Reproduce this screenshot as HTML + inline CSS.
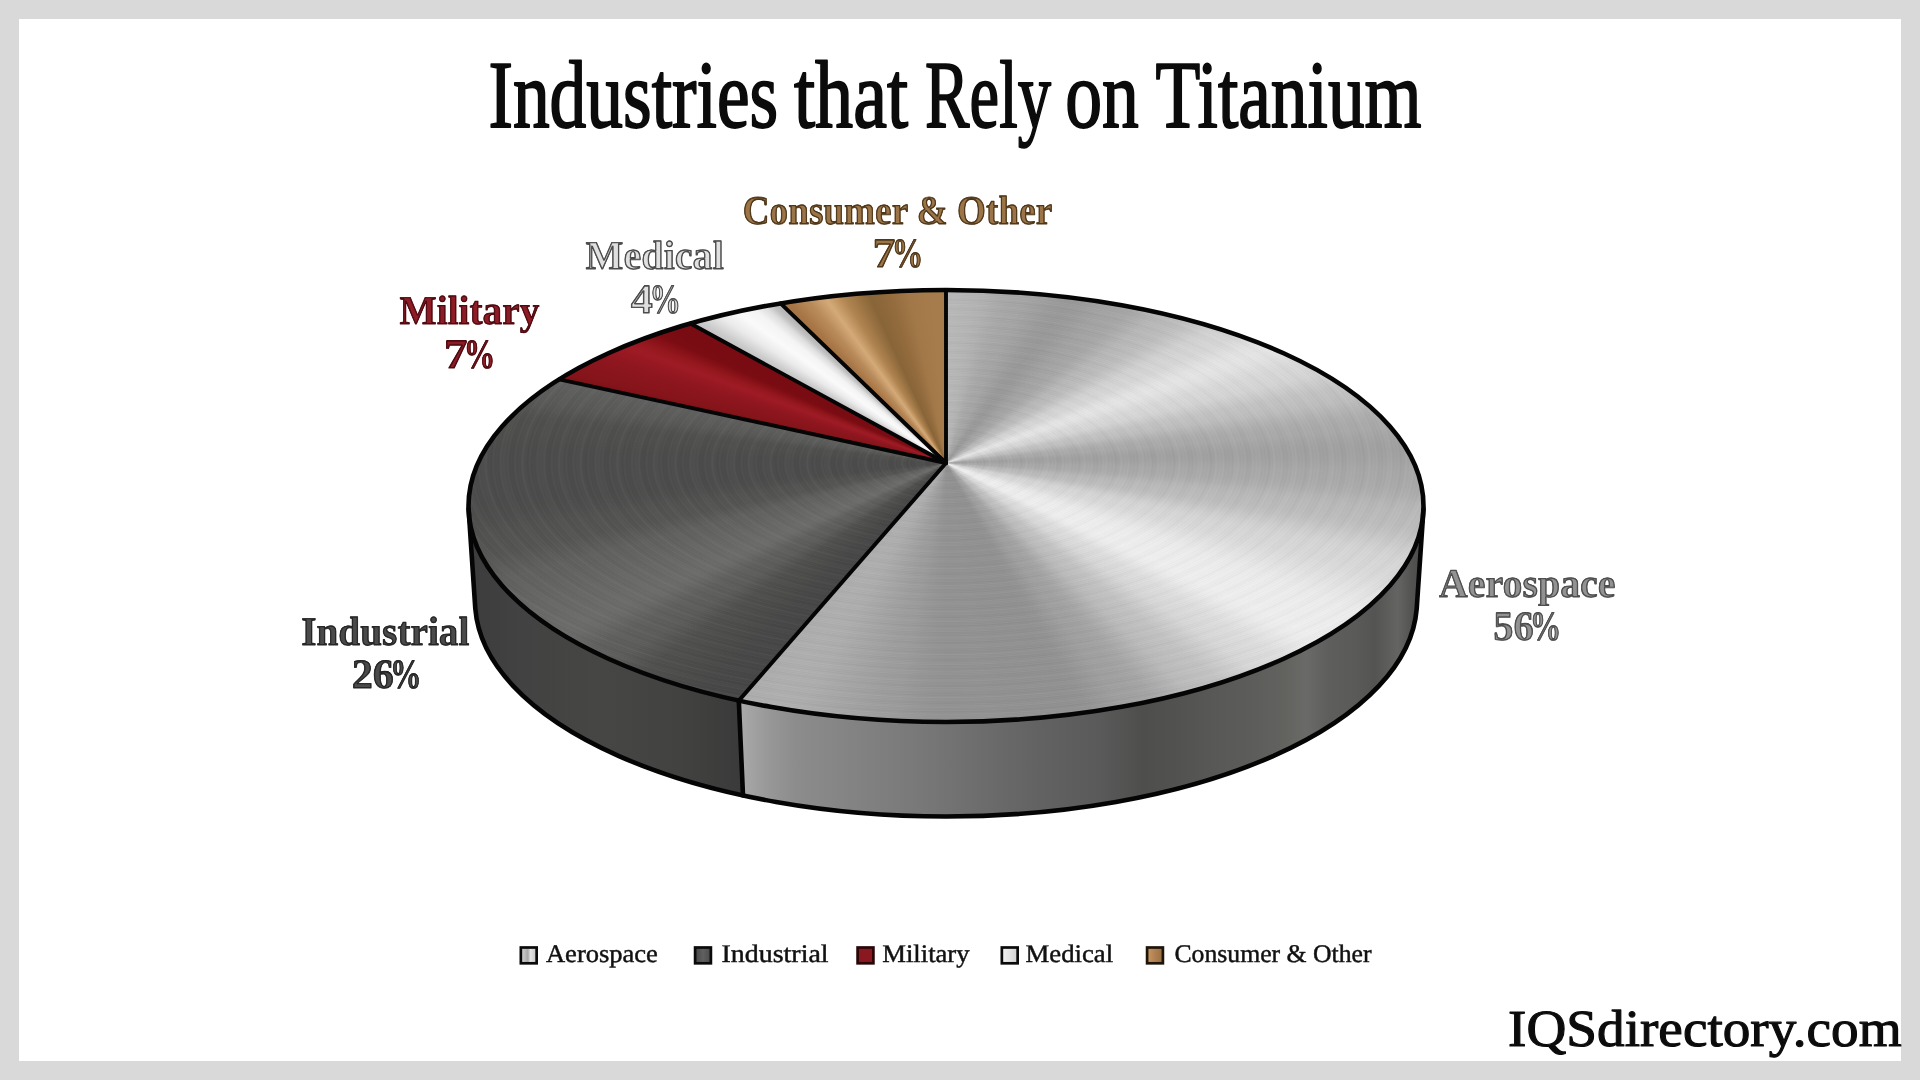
<!DOCTYPE html>
<html><head><meta charset="utf-8"><title>Industries that Rely on Titanium</title>
<style>
html,body{margin:0;padding:0;width:1920px;height:1080px;overflow:hidden;background:#d9d9d9;font-family:"Liberation Serif",serif}
#frame{position:absolute;left:19px;top:19px;width:1882px;height:1042px;background:#fff}
.clip{position:absolute;left:0;top:0;width:1920px;height:1080px;overflow:hidden}
.con{position:absolute;transform-origin:50% 50%}
svg{position:absolute;left:0;top:0;will-change:transform}
</style></head><body>
<div id="frame"></div>
<div class="clip" style="clip-path:path('M468.6 509.1 A477.5 216.0 0 0 0 738.8 700.6 L743.0 795.5 A471.0 215.5 0 0 1 475.3 608.7 Z');background:linear-gradient(90deg, #3c3c3c 468.0px, #424242 520.0px, #464644 600.0px, #424240 680.0px, #3a3a3a 743.0px)"></div>
<div class="clip" style="clip-path:path('M738.8 700.6 A477.5 216.0 0 0 0 1423.5 509.1 L1416.7 608.7 A471.0 215.5 0 0 1 743.0 795.5 Z');background:linear-gradient(90deg, #a8a8a8 743.0px, #a4a4a4 749.0px, #989898 768.0px, #8c8c8c 796.0px, #868686 834.0px, #808080 871.0px, #777777 927.0px, #6c6c6c 984.0px, #626262 1040.0px, #5a5a5a 1099.0px, #4e4e4c 1143.0px, #525250 1178.0px, #585856 1214.0px, #5c5c5a 1249.0px, #62625f 1285.0px, #6a6a68 1306.0px, #5e5e5c 1329.0px, #5a5a58 1355.0px, #545452 1375.0px, #646462 1398.0px, #525250 1412.0px, #4a4a4a 1424.0px)"></div>
<div class="clip" style="clip-path:path('M946.0 463.0 L946.0 290.0 A477.5 216.0 0 1 1 738.8 700.6 Z')"><div class="con" style="left:296.0px;top:-187.0px;width:1300px;height:1300px;transform:scaleY(0.4524);background:repeating-radial-gradient(circle at 50% 50%, rgba(255,255,255,.024) 0px, rgba(0,0,0,.022) 2.3px, rgba(255,255,255,0) 4.1px, rgba(0,0,0,.016) 5.9px, rgba(255,255,255,.024) 7.3px), repeating-radial-gradient(circle at 50% 50%, rgba(0,0,0,.018) 0px, rgba(255,255,255,.02) 5px, rgba(0,0,0,0) 11px, rgba(0,0,0,.018) 19px), conic-gradient(from 0deg at 50% 50%, #bababa 0.0deg, #b8b8b8 2.0deg, #b6b6b6 4.0deg, #b2b2b2 6.0deg, #acacac 8.0deg, #a8a8a8 10.0deg, #a6a6a6 12.2deg, #a1a1a1 14.5deg, #9c9c9c 16.8deg, #9a9a9a 19.0deg, #9c9c9c 21.0deg, #a0a0a0 23.0deg, #a4a4a4 25.0deg, #a6a6a6 27.0deg, #a9a9a9 29.0deg, #b0b0b0 31.0deg, #b8b8b8 33.0deg, #bbbbbb 35.0deg, #bfbfbf 37.2deg, #c8c8c8 39.5deg, #d2d2d2 41.8deg, #d6d6d6 44.0deg, #d8d8d8 46.0deg, #dedede 48.0deg, #e4e4e4 50.0deg, #e6e6e6 52.0deg, #e4e4e4 54.0deg, #dfdfdf 56.0deg, #dadada 58.0deg, #d8d8d8 60.0deg, #d5d5d5 62.2deg, #cdcdcd 64.5deg, #c5c5c5 66.8deg, #c2c2c2 69.0deg, #bebebe 71.2deg, #b6b6b6 73.5deg, #afafaf 75.8deg, #ababab 78.0deg, #aaaaaa 80.0deg, #a6a6a6 82.0deg, #a3a3a3 84.0deg, #a2a2a2 86.0deg, #a3a3a3 88.2deg, #a6a6a6 90.5deg, #a9a9a9 92.8deg, #aaaaaa 95.0deg, #acacac 97.0deg, #b0b0b0 99.0deg, #b6b6b6 101.0deg, #bababa 103.0deg, #bcbcbc 105.0deg, #bebebe 107.0deg, #c3c3c3 109.0deg, #cacaca 111.0deg, #d1d1d1 113.0deg, #d6d6d6 115.0deg, #d8d8d8 117.0deg, #dadada 119.2deg, #dedede 121.3deg, #e3e3e3 123.5deg, #e8e8e8 125.7deg, #ececec 127.8deg, #eeeeee 130.0deg, #efefef 132.0deg, #efefef 134.0deg, #f0f0f0 136.0deg, #ededed 138.0deg, #e6e6e6 140.0deg, #dfdfdf 142.0deg, #dcdcdc 144.0deg, #d8d8d8 146.1deg, #cecece 148.2deg, #c4c4c4 150.4deg, #c0c0c0 152.5deg, #bbbbbb 154.4deg, #b1b1b1 156.2deg, #a7a7a7 158.1deg, #a2a2a2 160.0deg, #a0a0a0 161.8deg, #9a9a9a 163.5deg, #949494 165.2deg, #929292 167.0deg, #929292 169.2deg, #929292 171.3deg, #929292 173.5deg, #939393 175.7deg, #939393 177.8deg, #939393 180.0deg, #959595 181.8deg, #989898 183.5deg, #9c9c9c 185.2deg, #9e9e9e 187.0deg, #a2a2a2 189.0deg, #a6a6a6 191.0deg, #aaaaaa 193.0deg, #aeaeae 195.0deg, #afafaf 196.5deg, #b0b0b0 198.0deg, #afafaf 199.8deg, #aeaeae 201.6deg, #aeaeae 203.6deg, #aeaeae 205.6deg, #aeaeae 207.6deg, #aeaeae 209.6deg, #aeaeae 211.6deg, #aeaeae 213.6deg, #aeaeae 215.6deg, #aeaeae 217.6deg, #aeaeae 219.6deg, #afafaf 221.7deg, #afafaf 223.7deg, #afafaf 225.7deg, #afafaf 227.7deg, #afafaf 229.7deg, #afafaf 231.7deg, #afafaf 233.7deg, #afafaf 235.7deg, #b0b0b0 237.7deg, #b0b0b0 239.7deg, #b0b0b0 241.7deg, #b0b0b0 243.7deg, #b0b0b0 245.7deg, #b0b0b0 247.7deg, #b1b1b1 249.7deg, #b1b1b1 251.7deg, #b1b1b1 253.7deg, #b1b1b1 255.7deg, #b1b1b1 257.7deg, #b2b2b2 259.7deg, #b2b2b2 261.8deg, #b2b2b2 263.8deg, #b2b2b2 265.8deg, #b3b3b3 267.8deg, #b3b3b3 269.8deg, #b3b3b3 271.8deg, #b3b3b3 273.8deg, #b3b3b3 275.8deg, #b4b4b4 277.8deg, #b4b4b4 279.8deg, #b4b4b4 281.8deg, #b4b4b4 283.8deg, #b5b5b5 285.8deg, #b5b5b5 287.8deg, #b5b5b5 289.8deg, #b5b5b5 291.8deg, #b5b5b5 293.8deg, #b6b6b6 295.8deg, #b6b6b6 297.8deg, #b6b6b6 299.8deg, #b6b6b6 301.9deg, #b7b7b7 303.9deg, #b7b7b7 305.9deg, #b7b7b7 307.9deg, #b7b7b7 309.9deg, #b7b7b7 311.9deg, #b8b8b8 313.9deg, #b8b8b8 315.9deg, #b8b8b8 317.9deg, #b8b8b8 319.9deg, #b8b8b8 321.9deg, #b8b8b8 323.9deg, #b9b9b9 325.9deg, #b9b9b9 327.9deg, #b9b9b9 329.9deg, #b9b9b9 331.9deg, #b9b9b9 333.9deg, #b9b9b9 335.9deg, #b9b9b9 337.9deg, #b9b9b9 339.9deg, #bababa 342.0deg, #bababa 344.0deg, #bababa 346.0deg, #bababa 348.0deg, #bababa 350.0deg, #bababa 352.0deg, #bababa 354.0deg, #bababa 356.0deg, #bababa 358.0deg, #bababa 360.0deg)"></div></div>
<div class="clip" style="clip-path:path('M946.0 463.0 L738.8 700.6 A477.5 216.0 0 0 1 559.2 379.3 Z')"><div class="con" style="left:296.0px;top:-187.0px;width:1300px;height:1300px;transform:scaleY(0.4524);background:repeating-radial-gradient(circle at 50% 50%, rgba(255,255,255,.024) 0px, rgba(0,0,0,.022) 2.3px, rgba(255,255,255,0) 4.1px, rgba(0,0,0,.016) 5.9px, rgba(255,255,255,.024) 7.3px), repeating-radial-gradient(circle at 50% 50%, rgba(0,0,0,.018) 0px, rgba(255,255,255,.02) 5px, rgba(0,0,0,0) 11px, rgba(0,0,0,.018) 19px), conic-gradient(from 0deg at 50% 50%, #464646 0.0deg, #464646 201.6deg, #474747 203.8deg, #484848 206.0deg, #4a4a49 207.8deg, #4c4c4b 209.7deg, #4e4e4c 211.5deg, #50504e 213.4deg, #565654 215.2deg, #5c5c5a 217.1deg, #5e5e5c 219.0deg, #60605e 220.8deg, #656563 222.5deg, #6a6a68 224.2deg, #6c6c6a 226.0deg, #6b6b69 228.0deg, #696967 230.0deg, #686866 232.0deg, #666664 234.0deg, #646462 236.0deg, #626260 238.0deg, #61615f 240.0deg, #5d5d5b 242.0deg, #595957 244.0deg, #555553 246.0deg, #545452 248.0deg, #535352 249.8deg, #525250 251.7deg, #50504f 253.5deg, #4e4e4e 255.3deg, #4d4d4c 257.2deg, #4c4c4c 259.0deg, #4c4c4c 272.0deg, #4c4c4c 274.0deg, #4d4d4c 276.0deg, #4e4e4d 278.0deg, #4f4f4d 280.0deg, #4f4f4d 282.0deg, #51514f 284.2deg, #565654 286.5deg, #5a5a58 288.8deg, #5c5c5a 291.0deg, #5e5e5d 293.1deg, #606060 295.2deg, #606060 360.0deg)"></div></div>
<div class="clip" style="clip-path:path('M946.0 463.0 L559.2 379.3 A477.5 216.0 0 0 1 690.5 323.5 Z')"><div class="con" style="left:296.0px;top:-187.0px;width:1300px;height:1300px;transform:scaleY(0.4524);background:conic-gradient(from 0deg at 50% 50%, #7e1117 0.0deg, #7e1117 295.2deg, #86141b 298.0deg, #88141c 299.5deg, #8a151c 301.0deg, #8d161e 302.9deg, #90161f 304.7deg, #971822 306.8deg, #9e1b25 308.8deg, #96181f 311.0deg, #881218 312.9deg, #7a0c12 314.7deg, #790c12 316.6deg, #790c12 318.5deg, #780c12 320.4deg, #780c12 360.0deg)"></div></div>
<div class="clip" style="clip-path:path('M946.0 463.0 L690.5 323.5 A477.5 216.0 0 0 1 780.6 303.4 Z')"><div class="con" style="left:296.0px;top:-187.0px;width:1300px;height:1300px;transform:scaleY(0.4524);background:conic-gradient(from 0deg at 50% 50%, #c2c2c2 0.0deg, #c2c2c2 320.4deg, #cccccc 322.0deg, #dbdbdb 323.5deg, #eaeaea 325.0deg, #f2f2f2 326.5deg, #fafafa 328.0deg, #f4f4f4 330.5deg, #dedede 332.3deg, #c0c0c0 333.5deg, #b0b0b0 334.8deg, #b0b0b0 360.0deg)"></div></div>
<div class="clip" style="clip-path:path('M946.0 463.0 L780.6 303.4 A477.5 216.0 0 0 1 946.0 290.0 Z')"><div class="con" style="left:296.0px;top:-187.0px;width:1300px;height:1300px;transform:scaleY(0.4524);background:conic-gradient(from 0deg at 50% 50%, #a27242 0.0deg, #a27242 334.8deg, #a87646 336.2deg, #b88a5a 339.0deg, #d4aa78 341.7deg, #b08450 344.5deg, #9c7444 346.4deg, #886538 348.3deg, #8e683b 350.0deg, #946c3e 351.6deg, #a27848 354.4deg, #a47a4a 356.1deg, #a67c4c 357.9deg, #a67c4c 360.0deg)"></div></div>
<svg width="1920" height="1080" viewBox="0 0 1920 1080">
<defs>
<clipPath id="cp0"><text x="742.73" y="224.00" font-family="'Liberation Serif', serif" font-size="40.80" font-weight="700" textLength="309.48" lengthAdjust="spacingAndGlyphs">Consumer &amp; Other</text></clipPath>
<clipPath id="cp1"><text x="872.56" y="267.40" font-family="'Liberation Serif', serif" font-size="41.50" font-weight="700" textLength="22.99" lengthAdjust="spacingAndGlyphs">7</text></clipPath>
<clipPath id="cp2"><text x="891.77" y="267.40" font-family="'Liberation Serif', serif" font-size="41.50" font-weight="700" textLength="31.55" lengthAdjust="spacingAndGlyphs">%</text></clipPath>
<clipPath id="cp3"><text x="585.60" y="269.40" font-family="'Liberation Serif', serif" font-size="40.80" font-weight="700" textLength="138.24" lengthAdjust="spacingAndGlyphs">Medical</text></clipPath>
<clipPath id="cp4"><text x="630.75" y="312.50" font-family="'Liberation Serif', serif" font-size="41.50" font-weight="700" textLength="22.13" lengthAdjust="spacingAndGlyphs">4</text></clipPath>
<clipPath id="cp5"><text x="649.47" y="312.50" font-family="'Liberation Serif', serif" font-size="41.50" font-weight="700" textLength="31.55" lengthAdjust="spacingAndGlyphs">%</text></clipPath>
<clipPath id="cp6"><text x="399.61" y="324.30" font-family="'Liberation Serif', serif" font-size="40.80" font-weight="700" textLength="139.75" lengthAdjust="spacingAndGlyphs">Military</text></clipPath>
<clipPath id="cp7"><text x="443.86" y="367.80" font-family="'Liberation Serif', serif" font-size="41.50" font-weight="700" textLength="23.83" lengthAdjust="spacingAndGlyphs">7</text></clipPath>
<clipPath id="cp8"><text x="463.87" y="367.80" font-family="'Liberation Serif', serif" font-size="41.50" font-weight="700" textLength="31.55" lengthAdjust="spacingAndGlyphs">%</text></clipPath>
<clipPath id="cp9"><text x="301.22" y="644.95" font-family="'Liberation Serif', serif" font-size="40.80" font-weight="700" textLength="168.19" lengthAdjust="spacingAndGlyphs">Industrial</text></clipPath>
<clipPath id="cp10"><text x="351.70" y="688.45" font-family="'Liberation Serif', serif" font-size="41.50" font-weight="700" textLength="42.32" lengthAdjust="spacingAndGlyphs">26</text></clipPath>
<clipPath id="cp11"><text x="390.12" y="688.45" font-family="'Liberation Serif', serif" font-size="41.50" font-weight="700" textLength="31.55" lengthAdjust="spacingAndGlyphs">%</text></clipPath>
<clipPath id="cp12"><text x="1439.00" y="597.20" font-family="'Liberation Serif', serif" font-size="40.80" font-weight="700" textLength="176.49" lengthAdjust="spacingAndGlyphs">Aerospace</text></clipPath>
<clipPath id="cp13"><text x="1493.13" y="640.30" font-family="'Liberation Serif', serif" font-size="41.50" font-weight="700" textLength="40.59" lengthAdjust="spacingAndGlyphs">56</text></clipPath>
<clipPath id="cp14"><text x="1529.87" y="640.30" font-family="'Liberation Serif', serif" font-size="41.50" font-weight="700" textLength="31.55" lengthAdjust="spacingAndGlyphs">%</text></clipPath>
<linearGradient id="gAero" x1="0" y1="0" x2="1" y2="0"><stop offset="0" stop-color="#d8d8d8"/><stop offset=".45" stop-color="#a8a8a8"/><stop offset=".6" stop-color="#e4e4e4"/><stop offset="1" stop-color="#c4c4c4"/></linearGradient>
<linearGradient id="gInd" x1="0" y1="0" x2="1" y2="0"><stop offset="0" stop-color="#464646"/><stop offset=".5" stop-color="#606060"/><stop offset="1" stop-color="#4a4a4a"/></linearGradient>
<linearGradient id="gMed" x1="0" y1="0" x2="1" y2="0"><stop offset="0" stop-color="#f2f2f2"/><stop offset=".6" stop-color="#e0e0e0"/><stop offset="1" stop-color="#d0d0d0"/></linearGradient>
<linearGradient id="gCon" x1="0" y1="0" x2="1" y2="0"><stop offset="0" stop-color="#c89a62"/><stop offset=".5" stop-color="#b08050"/><stop offset="1" stop-color="#96703f"/></linearGradient>
</defs>
<g fill="none" stroke="#050505" stroke-width="4.6" stroke-linejoin="round" stroke-linecap="round">
<path d="M468.6 509.1 L475.3 608.7 A471.0 215.5 0 0 0 1416.7 608.7 L1423.5 509.1"/><path d="M738.8 700.6 L743.0 795.5"/>
<ellipse cx="946.0" cy="506.0" rx="477.5" ry="216.0"/>
<g stroke-width="3.9">
<path d="M946.0 463.0 L946.0 290.0"/><path d="M946.0 463.0 L738.8 700.6"/><path d="M946.0 463.0 L559.2 379.3"/><path d="M946.0 463.0 L690.5 323.5"/><path d="M946.0 463.0 L780.6 303.4"/>
</g>
</g>
<g>
<rect x="520.85" y="947.5" width="15.8" height="15.8" fill="url(#gAero)" stroke="#0a0a0a" stroke-width="2.7"/>
<rect x="695.10" y="947.5" width="15.8" height="15.8" fill="url(#gInd)" stroke="#0a0a0a" stroke-width="2.7"/>
<rect x="857.60" y="947.5" width="15.8" height="15.8" fill="#8a1820" stroke="#2a0608" stroke-width="2.7"/>
<rect x="1001.85" y="947.5" width="15.8" height="15.8" fill="url(#gMed)" stroke="#0a0a0a" stroke-width="2.7"/>
<rect x="1147.10" y="947.5" width="15.8" height="15.8" fill="url(#gCon)" stroke="#1e1409" stroke-width="2.7"/>
</g>
<g text-rendering="geometricPrecision">
<text x="488.43" y="127.00" font-family="'Liberation Serif', serif" font-size="96.00" font-weight="400" textLength="289.75" lengthAdjust="spacingAndGlyphs" fill="#0b0b0b" stroke="#0b0b0b" stroke-width="1.90" paint-order="stroke fill" stroke-linejoin="round">Industries</text>
<text x="793.94" y="127.00" font-family="'Liberation Serif', serif" font-size="96.00" font-weight="400" textLength="114.11" lengthAdjust="spacingAndGlyphs" fill="#0b0b0b" stroke="#0b0b0b" stroke-width="1.90" paint-order="stroke fill" stroke-linejoin="round">that</text>
<text x="925.07" y="127.00" font-family="'Liberation Serif', serif" font-size="96.00" font-weight="400" textLength="125.98" lengthAdjust="spacingAndGlyphs" fill="#0b0b0b" stroke="#0b0b0b" stroke-width="1.90" paint-order="stroke fill" stroke-linejoin="round">Rely</text>
<text x="1065.14" y="127.00" font-family="'Liberation Serif', serif" font-size="96.00" font-weight="400" textLength="73.56" lengthAdjust="spacingAndGlyphs" fill="#0b0b0b" stroke="#0b0b0b" stroke-width="1.90" paint-order="stroke fill" stroke-linejoin="round">on</text>
<text x="1155.42" y="127.00" font-family="'Liberation Serif', serif" font-size="96.00" font-weight="400" textLength="266.15" lengthAdjust="spacingAndGlyphs" fill="#0b0b0b" stroke="#0b0b0b" stroke-width="1.90" paint-order="stroke fill" stroke-linejoin="round">Titanium</text>
<text x="742.73" y="224.00" font-family="'Liberation Serif', serif" font-size="40.80" font-weight="700" textLength="309.48" lengthAdjust="spacingAndGlyphs" fill="#4f3719" stroke="#4f3719" stroke-width="0.8" stroke-linejoin="round">Consumer &amp; Other</text><text x="742.73" y="224.00" font-family="'Liberation Serif', serif" font-size="40.80" font-weight="700" textLength="309.48" lengthAdjust="spacingAndGlyphs" fill="#9b7447" stroke="#4f3719" stroke-width="1.90" stroke-linejoin="round" clip-path="url(#cp0)">Consumer &amp; Other</text>
<text x="872.56" y="267.40" font-family="'Liberation Serif', serif" font-size="41.50" font-weight="700" textLength="22.99" lengthAdjust="spacingAndGlyphs" fill="#4f3719" stroke="#4f3719" stroke-width="0.8" stroke-linejoin="round">7</text><text x="872.56" y="267.40" font-family="'Liberation Serif', serif" font-size="41.50" font-weight="700" textLength="22.99" lengthAdjust="spacingAndGlyphs" fill="#9b7447" stroke="#4f3719" stroke-width="1.90" stroke-linejoin="round" clip-path="url(#cp1)">7</text>
<text x="891.77" y="267.40" font-family="'Liberation Serif', serif" font-size="41.50" font-weight="700" textLength="31.55" lengthAdjust="spacingAndGlyphs" fill="#4f3719" stroke="#4f3719" stroke-width="0.8" stroke-linejoin="round">%</text><text x="891.77" y="267.40" font-family="'Liberation Serif', serif" font-size="41.50" font-weight="700" textLength="31.55" lengthAdjust="spacingAndGlyphs" fill="#9b7447" stroke="#4f3719" stroke-width="1.90" stroke-linejoin="round" clip-path="url(#cp2)">%</text>
<text x="585.60" y="269.40" font-family="'Liberation Serif', serif" font-size="40.80" font-weight="700" textLength="138.24" lengthAdjust="spacingAndGlyphs" fill="#4c4c4c" stroke="#4c4c4c" stroke-width="0.8" stroke-linejoin="round">Medical</text><text x="585.60" y="269.40" font-family="'Liberation Serif', serif" font-size="40.80" font-weight="700" textLength="138.24" lengthAdjust="spacingAndGlyphs" fill="#e0e0e0" stroke="#4c4c4c" stroke-width="1.90" stroke-linejoin="round" clip-path="url(#cp3)">Medical</text>
<text x="630.75" y="312.50" font-family="'Liberation Serif', serif" font-size="41.50" font-weight="700" textLength="22.13" lengthAdjust="spacingAndGlyphs" fill="#4c4c4c" stroke="#4c4c4c" stroke-width="0.8" stroke-linejoin="round">4</text><text x="630.75" y="312.50" font-family="'Liberation Serif', serif" font-size="41.50" font-weight="700" textLength="22.13" lengthAdjust="spacingAndGlyphs" fill="#e0e0e0" stroke="#4c4c4c" stroke-width="1.90" stroke-linejoin="round" clip-path="url(#cp4)">4</text>
<text x="649.47" y="312.50" font-family="'Liberation Serif', serif" font-size="41.50" font-weight="700" textLength="31.55" lengthAdjust="spacingAndGlyphs" fill="#4c4c4c" stroke="#4c4c4c" stroke-width="0.8" stroke-linejoin="round">%</text><text x="649.47" y="312.50" font-family="'Liberation Serif', serif" font-size="41.50" font-weight="700" textLength="31.55" lengthAdjust="spacingAndGlyphs" fill="#e0e0e0" stroke="#4c4c4c" stroke-width="1.90" stroke-linejoin="round" clip-path="url(#cp5)">%</text>
<text x="399.61" y="324.30" font-family="'Liberation Serif', serif" font-size="40.80" font-weight="700" textLength="139.75" lengthAdjust="spacingAndGlyphs" fill="#4e0a10" stroke="#4e0a10" stroke-width="0.8" stroke-linejoin="round">Military</text><text x="399.61" y="324.30" font-family="'Liberation Serif', serif" font-size="40.80" font-weight="700" textLength="139.75" lengthAdjust="spacingAndGlyphs" fill="#8e1c26" stroke="#4e0a10" stroke-width="1.90" stroke-linejoin="round" clip-path="url(#cp6)">Military</text>
<text x="443.86" y="367.80" font-family="'Liberation Serif', serif" font-size="41.50" font-weight="700" textLength="23.83" lengthAdjust="spacingAndGlyphs" fill="#4e0a10" stroke="#4e0a10" stroke-width="0.8" stroke-linejoin="round">7</text><text x="443.86" y="367.80" font-family="'Liberation Serif', serif" font-size="41.50" font-weight="700" textLength="23.83" lengthAdjust="spacingAndGlyphs" fill="#8e1c26" stroke="#4e0a10" stroke-width="1.90" stroke-linejoin="round" clip-path="url(#cp7)">7</text>
<text x="463.87" y="367.80" font-family="'Liberation Serif', serif" font-size="41.50" font-weight="700" textLength="31.55" lengthAdjust="spacingAndGlyphs" fill="#4e0a10" stroke="#4e0a10" stroke-width="0.8" stroke-linejoin="round">%</text><text x="463.87" y="367.80" font-family="'Liberation Serif', serif" font-size="41.50" font-weight="700" textLength="31.55" lengthAdjust="spacingAndGlyphs" fill="#8e1c26" stroke="#4e0a10" stroke-width="1.90" stroke-linejoin="round" clip-path="url(#cp8)">%</text>
<text x="301.22" y="644.95" font-family="'Liberation Serif', serif" font-size="40.80" font-weight="700" textLength="168.19" lengthAdjust="spacingAndGlyphs" fill="#262626" stroke="#262626" stroke-width="0.8" stroke-linejoin="round">Industrial</text><text x="301.22" y="644.95" font-family="'Liberation Serif', serif" font-size="40.80" font-weight="700" textLength="168.19" lengthAdjust="spacingAndGlyphs" fill="#4a4a4a" stroke="#262626" stroke-width="1.90" stroke-linejoin="round" clip-path="url(#cp9)">Industrial</text>
<text x="351.70" y="688.45" font-family="'Liberation Serif', serif" font-size="41.50" font-weight="700" textLength="42.32" lengthAdjust="spacingAndGlyphs" fill="#262626" stroke="#262626" stroke-width="0.8" stroke-linejoin="round">26</text><text x="351.70" y="688.45" font-family="'Liberation Serif', serif" font-size="41.50" font-weight="700" textLength="42.32" lengthAdjust="spacingAndGlyphs" fill="#4a4a4a" stroke="#262626" stroke-width="1.90" stroke-linejoin="round" clip-path="url(#cp10)">26</text>
<text x="390.12" y="688.45" font-family="'Liberation Serif', serif" font-size="41.50" font-weight="700" textLength="31.55" lengthAdjust="spacingAndGlyphs" fill="#262626" stroke="#262626" stroke-width="0.8" stroke-linejoin="round">%</text><text x="390.12" y="688.45" font-family="'Liberation Serif', serif" font-size="41.50" font-weight="700" textLength="31.55" lengthAdjust="spacingAndGlyphs" fill="#4a4a4a" stroke="#262626" stroke-width="1.90" stroke-linejoin="round" clip-path="url(#cp11)">%</text>
<text x="1439.00" y="597.20" font-family="'Liberation Serif', serif" font-size="40.80" font-weight="700" textLength="176.49" lengthAdjust="spacingAndGlyphs" fill="#4e4e4e" stroke="#4e4e4e" stroke-width="0.8" stroke-linejoin="round">Aerospace</text><text x="1439.00" y="597.20" font-family="'Liberation Serif', serif" font-size="40.80" font-weight="700" textLength="176.49" lengthAdjust="spacingAndGlyphs" fill="#929292" stroke="#4e4e4e" stroke-width="1.90" stroke-linejoin="round" clip-path="url(#cp12)">Aerospace</text>
<text x="1493.13" y="640.30" font-family="'Liberation Serif', serif" font-size="41.50" font-weight="700" textLength="40.59" lengthAdjust="spacingAndGlyphs" fill="#4e4e4e" stroke="#4e4e4e" stroke-width="0.8" stroke-linejoin="round">56</text><text x="1493.13" y="640.30" font-family="'Liberation Serif', serif" font-size="41.50" font-weight="700" textLength="40.59" lengthAdjust="spacingAndGlyphs" fill="#929292" stroke="#4e4e4e" stroke-width="1.90" stroke-linejoin="round" clip-path="url(#cp13)">56</text>
<text x="1529.87" y="640.30" font-family="'Liberation Serif', serif" font-size="41.50" font-weight="700" textLength="31.55" lengthAdjust="spacingAndGlyphs" fill="#4e4e4e" stroke="#4e4e4e" stroke-width="0.8" stroke-linejoin="round">%</text><text x="1529.87" y="640.30" font-family="'Liberation Serif', serif" font-size="41.50" font-weight="700" textLength="31.55" lengthAdjust="spacingAndGlyphs" fill="#929292" stroke="#4e4e4e" stroke-width="1.90" stroke-linejoin="round" clip-path="url(#cp14)">%</text>
<text x="545.98" y="962.00" font-family="'Liberation Serif', serif" font-size="25.40" font-weight="400" textLength="111.94" lengthAdjust="spacingAndGlyphs" fill="#111" stroke="#111" stroke-width="0.45" paint-order="stroke fill" stroke-linejoin="round">Aerospace</text>
<text x="721.52" y="962.00" font-family="'Liberation Serif', serif" font-size="25.40" font-weight="400" textLength="107.04" lengthAdjust="spacingAndGlyphs" fill="#111" stroke="#111" stroke-width="0.45" paint-order="stroke fill" stroke-linejoin="round">Industrial</text>
<text x="882.27" y="962.00" font-family="'Liberation Serif', serif" font-size="25.40" font-weight="400" textLength="87.30" lengthAdjust="spacingAndGlyphs" fill="#111" stroke="#111" stroke-width="0.45" paint-order="stroke fill" stroke-linejoin="round">Military</text>
<text x="1025.52" y="962.00" font-family="'Liberation Serif', serif" font-size="25.40" font-weight="400" textLength="87.56" lengthAdjust="spacingAndGlyphs" fill="#111" stroke="#111" stroke-width="0.45" paint-order="stroke fill" stroke-linejoin="round">Medical</text>
<text x="1174.47" y="962.00" font-family="'Liberation Serif', serif" font-size="25.40" font-weight="400" textLength="196.99" lengthAdjust="spacingAndGlyphs" fill="#111" stroke="#111" stroke-width="0.45" paint-order="stroke fill" stroke-linejoin="round">Consumer &amp; Other</text>
<text x="1508.07" y="1045.80" font-family="'Liberation Serif', serif" font-size="52.00" font-weight="400" textLength="393.57" lengthAdjust="spacingAndGlyphs" fill="#0b0b0b" stroke="#0b0b0b" stroke-width="1.10" paint-order="stroke fill" stroke-linejoin="round">IQSdirectory.com</text>
</g>
</svg>
</body></html>
